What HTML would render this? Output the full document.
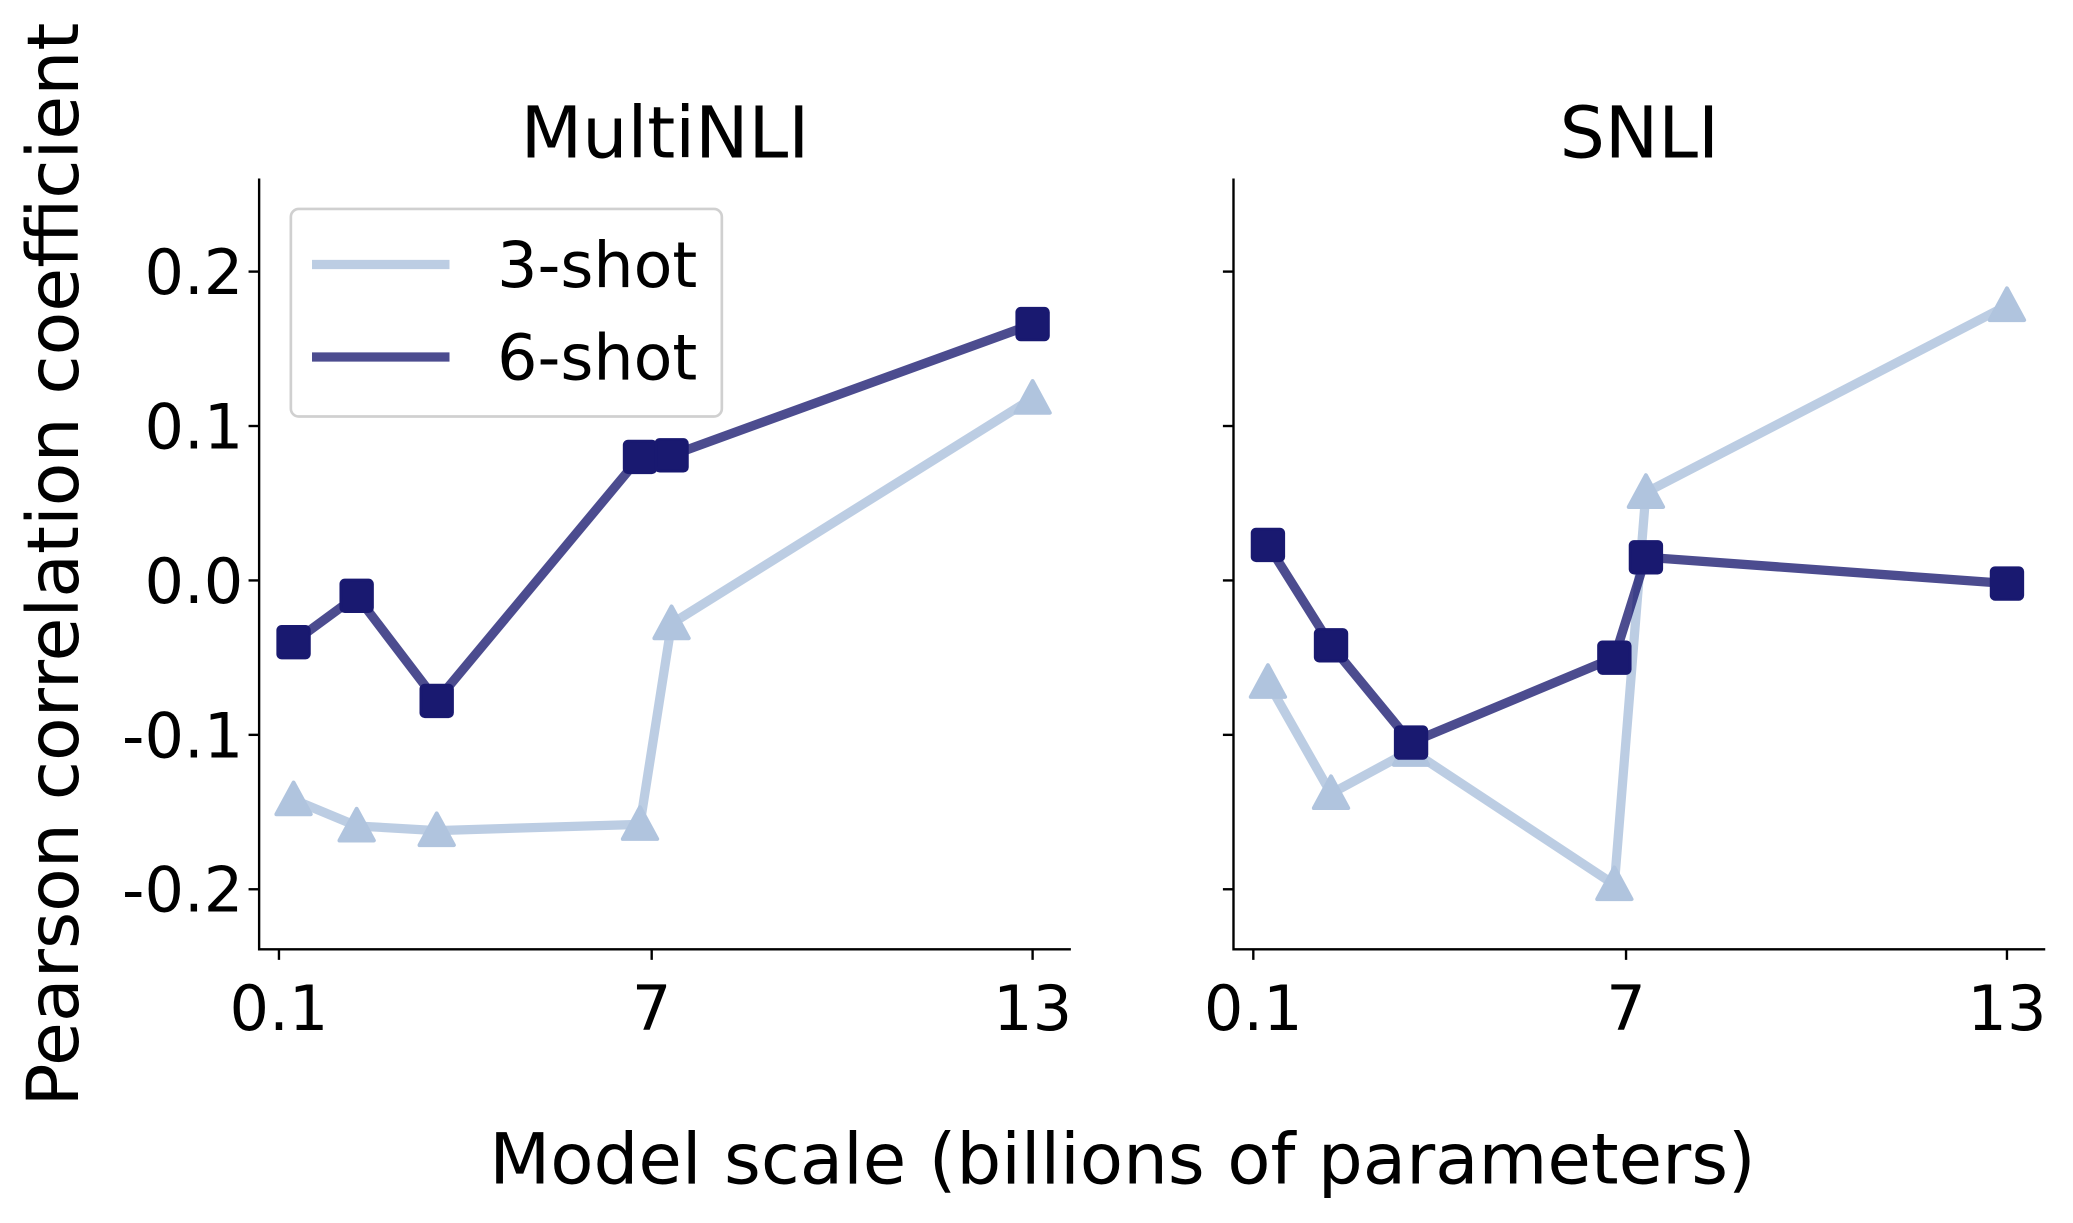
<!DOCTYPE html>
<html><head><meta charset="utf-8"><style>body{margin:0;background:#fff}svg{display:block}text{font-family:"DejaVu Sans","Liberation Sans",sans-serif;fill:#000}</style></head>
<body>
<svg id="chart" width="2073" height="1223" viewBox="0 0 1568 925" xmlns="http://www.w3.org/2000/svg">
<text x="59" y="427" font-size="54" text-anchor="middle" transform="rotate(-90 59 427)">Pearson correlation coefficient</text>
<text x="849" y="895" font-size="53.5" text-anchor="middle">Model scale (billions of parameters)</text>
<g id="plots"></g>
</svg>
<script>
const modelSizes = [0.35, 1.43, 2.8, 6.28, 6.82, 13];
const xTickValues = [0.1, 6.48, 13];
const xTickLabels = ['0.1', '7', '13'];
const yTickValues = [0.2, 0.1, 0.0, -0.1, -0.2];
const yTickLabels = ['0.2', '0.1', '0.0', '-0.1', '-0.2'];
const panelTitles = ['MultiNLI', 'SNLI'];
const mnli3shot = [-0.142, -0.159, -0.162, -0.158, -0.028, 0.118];
const mnli6shot = [-0.040, -0.010, -0.078, 0.080, 0.081, 0.166];
const snli3shot = [-0.066, -0.138, -0.110, -0.197, 0.057, 0.178];
const snli6shot = [0.023, -0.042, -0.105, -0.050, 0.015, -0.002];

const NS = 'http://www.w3.org/2000/svg';
const root = document.getElementById('plots');
function el(tag, attrs, parent) { const e = document.createElementNS(NS, tag); for (const k in attrs) e.setAttribute(k, attrs[k]); (parent || root).appendChild(e); return e; }
const yScale = v => 439 - v * 1168;
const panels = [
  {left: 196, x0: 211, d3: mnli3shot, d6: mnli6shot, showY: true},
  {left: 933, x0: 948, d3: snli3shot, d6: snli6shot, showY: false}
];
panels.forEach((p, i) => {
  const xs = v => p.x0 + (v - 0.1) * 44.19;
  const g = el('g', {});
  
  
  const t = el('text', {x: p.left + 307, y: 119, 'font-size': 54, 'text-anchor': 'middle'}, g);
  t.textContent = panelTitles[i];
  
  
  const ax = el('path', {d: `M${p.left} 135V718H${p.left + 614}`, stroke: '#000', 'stroke-width': 1.8, fill: 'none'}, g);
  
  
  yTickValues.forEach((v, j) => {
    const y = yScale(v);
    el('line', {x1: p.left - 8, x2: p.left, y1: y, y2: y, stroke: '#000', 'stroke-width': 1.8}, g);
    if (p.showY) {
      const tl = el('text', {x: p.left - 12, y: y + 17, 'font-size': 47, 'text-anchor': 'end'}, g);
      tl.textContent = yTickLabels[j];
      
      
    }
  });
  xTickValues.forEach((v, j) => {
    const x = xs(v);
    el('line', {x1: x, x2: x, y1: 718, y2: 726, stroke: '#000', 'stroke-width': 1.8}, g);
    const tl = el('text', {x: x, y: 779, 'font-size': 47, 'text-anchor': 'middle'}, g);
    tl.textContent = xTickLabels[j];
    
    
  });
  [[p.d3, '#b0c4de', 'rgba(176,196,222,0.85)', 'tri', '3-shot'], [p.d6, '#191970', 'rgba(25,25,112,0.78)', 'sq', '6-shot']].forEach(([d, mc, lc, m, nm]) => {
    const pts = d.map((v, k) => [xs(modelSizes[k]), yScale(v)]);
    const line = el('polyline', {points: pts.map(q => q.join(',')).join(' '), fill: 'none', stroke: lc, 'stroke-width': 7, 'stroke-linejoin': 'round'}, g);
    
    
    pts.forEach(([x, y]) => {
      let mk;
      if (m === 'sq') mk = el('rect', {x: x - 12, y: y - 12, width: 24, height: 24, rx: 3, fill: mc, stroke: mc, 'stroke-width': 2}, g);
      else mk = el('path', {d: `M${x} ${y - 13}L${x + 13} ${y + 11}H${x - 13}Z`, fill: mc, stroke: mc, 'stroke-width': 3, 'stroke-linejoin': 'round'}, g);
      
      
    });
  });
});
const lg = el('g', {});


el('rect', {x: 220, y: 158, width: 326, height: 157, rx: 6, fill: '#fff', 'fill-opacity': 0.85, stroke: '#d0d0d0', 'stroke-width': 2}, lg);
[['3-shot', 'rgba(176,196,222,0.85)', 200], ['6-shot', 'rgba(25,25,112,0.78)', 270]].forEach(([lab, c, y]) => {
  const e = el('line', {x1: 236, x2: 340, y1: y, y2: y, stroke: c, 'stroke-width': 7}, lg);
  
  
  const t = el('text', {x: 376, y: y + 17, 'font-size': 48}, lg);
  t.textContent = lab;
  
  
});
</script>
</body></html>
